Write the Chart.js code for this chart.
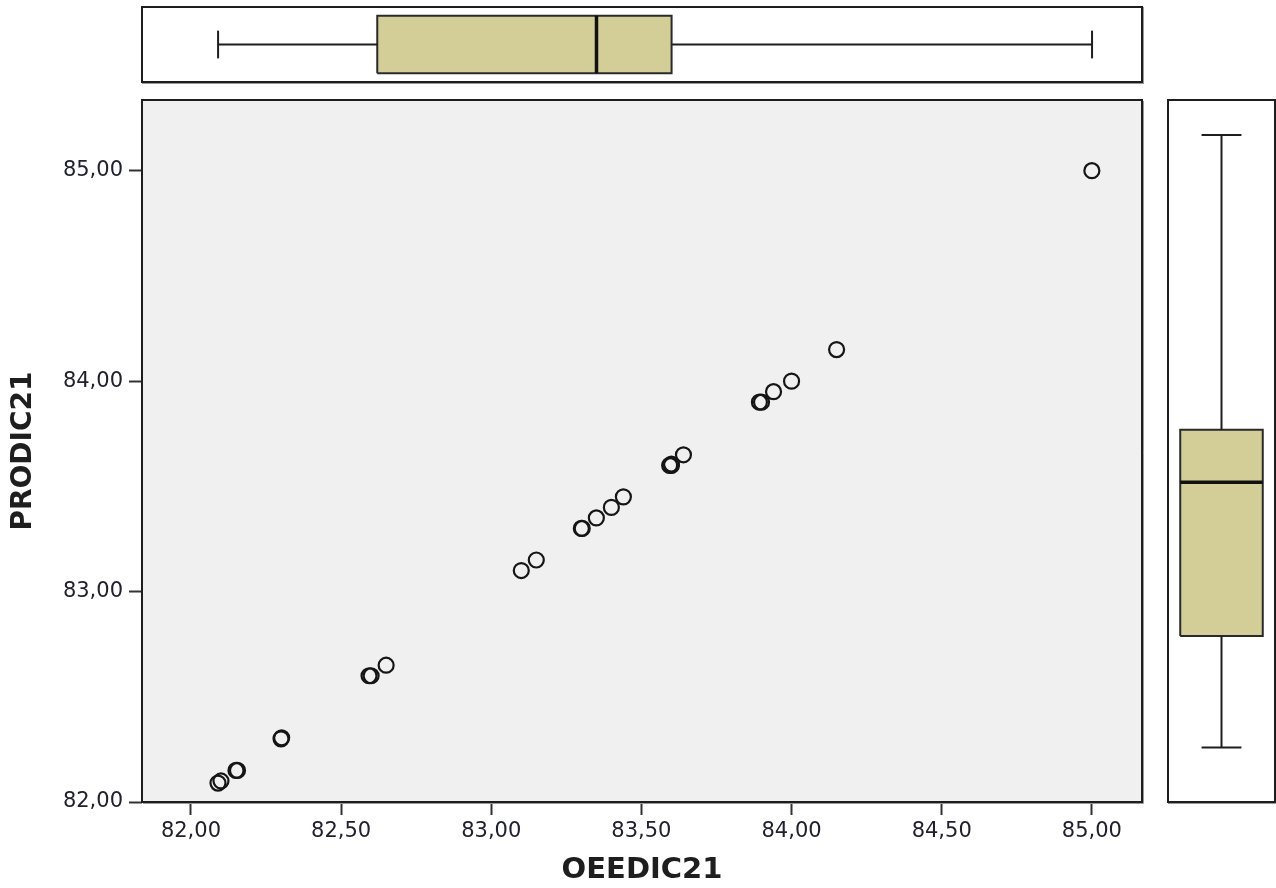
<!DOCTYPE html>
<html>
<head>
<meta charset="utf-8">
<script src="https://cdn.jsdelivr.net/npm/chart.js@4/dist/chart.umd.min.js"></script>
<style>
  body { margin: 0; background: #fff; width: 1276px; height: 888px; overflow: hidden; position: relative; }
  .pane { position: absolute; }
  .frame { position: absolute; border: 2px solid #1e1e1e; box-shadow: 1px 1px 0 #999; background: #fff; }
</style>
</head>
<body>
<div class="pane" style="left:0;top:0;width:1160px;height:888px;">
  <canvas id="scatter" width="1160" height="888"></canvas>
</div>
<div class="frame" style="left:141px;top:6px;width:998px;height:73px;">
  <canvas id="box-top" width="998" height="73"></canvas>
</div>
<div class="frame" style="left:1167px;top:99px;width:105px;height:700px;">
  <canvas id="box-right" width="105" height="700"></canvas>
</div>
<script>
// tick labels (SPSS uses comma decimals)
var xTickLabels = ["82,00", "82,50", "83,00", "83,50", "84,00", "84,50", "85,00"];
var yTickLabels = ["82,00", "83,00", "84,00", "85,00"];

// OEEDIC21 / PRODIC21 pairs
var oeedic = [82.09, 82.10, 82.15, 82.155, 82.30, 82.302, 82.60, 82.593, 82.65,
              83.10, 83.15, 83.30, 83.303, 83.35, 83.40, 83.44,
              83.60, 83.594, 83.60, 83.64, 83.90, 83.893, 83.94, 84.00, 84.15, 85.00];
var prodic = [82.09, 82.10, 82.15, 82.15, 82.30, 82.305, 82.60, 82.60, 82.65,
              83.10, 83.15, 83.30, 83.30, 83.35, 83.40, 83.45,
              83.60, 83.60, 83.606, 83.65, 83.90, 83.90, 83.95, 84.00, 84.15, 85.00];

// five-number summaries: min, Q1, median, Q3, max
var oeeBox = [82.09, 82.62, 83.35, 83.60, 85.00];
var proBox = [82.09, 82.62, 83.35, 83.60, 85.00];

var boxFill = "#d3ce98";
var ink = "#1e1e1e";

function labelValue(s) {
  return parseFloat(s.replace(",", "."));
}

// frame + grey background for the main plot
var plotFrame = {
  id: "plotFrame",
  beforeDraw: function (chart) {
    var a = chart.chartArea, ctx = chart.ctx;
    ctx.save();
    ctx.fillStyle = "#f0f0f0";
    ctx.fillRect(a.left, a.top, a.right - a.left, a.bottom - a.top);
    ctx.restore();
  },
  afterDraw: function (chart) {
    var a = chart.ctx, c = chart.chartArea;
    a.save();
    a.strokeStyle = "#999";
    a.lineWidth = 1;
    a.beginPath();
    a.moveTo(c.right + 1.5, c.top + 1);
    a.lineTo(c.right + 1.5, c.bottom + 1.5);
    a.lineTo(c.left + 1, c.bottom + 1.5);
    a.stroke();
    a.strokeStyle = ink;
    a.lineWidth = 2;
    a.strokeRect(c.left, c.top, c.right - c.left, c.bottom - c.top);
    a.restore();
  },
};

var points = oeedic.map(function (v, i) {
  return { x: v, y: prodic[i] };
});

new Chart(document.getElementById("scatter").getContext("2d"), {
  type: "scatter",
  data: {
    datasets: [
      {
        data: points,
        pointRadius: 7.5,
        pointBorderWidth: 2.2,
        borderColor: "#151515",
        backgroundColor: "rgba(0,0,0,0)",
        pointHoverRadius: 7.5,
      },
    ],
  },
  options: {
    responsive: false,
    animation: false,
    layout: { padding: { top: 100, right: 18, left: 0, bottom: 0 } },
    plugins: { legend: { display: false }, tooltip: { enabled: false } },
    scales: {
      x: {
        type: "linear",
        min: 81.837,
        max: 85.167,
        afterFit: function (scale) { scale.height = 86; },
        afterBuildTicks: function (scale) {
          scale.ticks = xTickLabels.map(function (t) { return { value: labelValue(t) }; });
        },
        ticks: {
          autoSkip: false,
          maxRotation: 0,
          padding: 4,
          color: "#20202e",
          font: { family: "DejaVu Sans", size: 21 },
          callback: function (value, index) { return xTickLabels[index]; },
        },
        grid: { drawOnChartArea: false, drawTicks: true, tickLength: 13, tickWidth: 2, tickColor: "#333" },
        border: { display: false },
        title: {
          display: true,
          text: "OEEDIC21",
          color: ink,
          font: { family: "DejaVu Sans", size: 29, weight: "bold" },
          padding: { top: 0, bottom: 0 },
        },
      },
      y: {
        type: "linear",
        min: 82.0,
        max: 85.336,
        afterFit: function (scale) { scale.width = 142; },
        afterBuildTicks: function (scale) {
          scale.ticks = yTickLabels.map(function (t) { return { value: labelValue(t) }; });
        },
        ticks: {
          autoSkip: false,
          padding: 6,
          color: "#20202e",
          font: { family: "DejaVu Sans", size: 21 },
          callback: function (value, index) { return yTickLabels[index]; },
        },
        grid: { drawOnChartArea: false, drawTicks: true, tickLength: 13, tickWidth: 2, tickColor: "#333" },
        border: { display: false },
        title: {
          display: true,
          text: "PRODIC21",
          color: ink,
          font: { family: "DejaVu Sans", size: 28, weight: "bold" },
          padding: { top: 7, bottom: 0 },
        },
      },
    },
  },
  plugins: [plotFrame],
});

// box plot drawn as line datasets; lower index is painted on top
function boxDatasets(s, vertical) {
  function pt(v, a) { return vertical ? { x: a, y: v } : { x: v, y: a }; }
  var lo = 0.107, hi = 0.893, c0 = 0.31, c1 = 0.69, mid = 0.5;
  var line = { showLine: true, pointRadius: 0, borderColor: ink, borderWidth: 2, fill: false, tension: 0 };
  return [
    Object.assign({}, line, { data: [pt(s[2], lo), pt(s[2], hi)], borderWidth: 3.5, borderColor: "#111" }),
    Object.assign({}, line, { data: [pt(s[0], mid), pt(s[1], mid)] }),
    Object.assign({}, line, { data: [pt(s[3], mid), pt(s[4], mid)] }),
    Object.assign({}, line, { data: [pt(s[0], c0), pt(s[0], c1)] }),
    Object.assign({}, line, { data: [pt(s[4], c0), pt(s[4], c1)] }),
    Object.assign({}, line, {
      data: [pt(s[1], lo), pt(s[3], lo), pt(s[3], hi), pt(s[1], hi), pt(s[1], lo)],
      fill: "shape",
      backgroundColor: boxFill,
      borderColor: "#2a2a2a",
    }),
  ];
}

function boxChart(id, stats, vertical, range) {
  var valueScale = { type: "linear", display: false, min: range[0], max: range[1] };
  var acrossScale = { type: "linear", display: false, min: 0, max: 1 };
  new Chart(document.getElementById(id).getContext("2d"), {
    type: "scatter",
    data: { datasets: boxDatasets(stats, vertical) },
    options: {
      responsive: false,
      animation: false,
      layout: { padding: 0 },
      plugins: { legend: { display: false }, tooltip: { enabled: false } },
      scales: vertical ? { x: acrossScale, y: valueScale } : { x: valueScale, y: acrossScale },
    },
  });
}

boxChart("box-top", oeeBox, false, [81.840, 85.163]);
boxChart("box-right", proBox, true, [81.836, 85.1615]);
</script>
</body>
</html>
